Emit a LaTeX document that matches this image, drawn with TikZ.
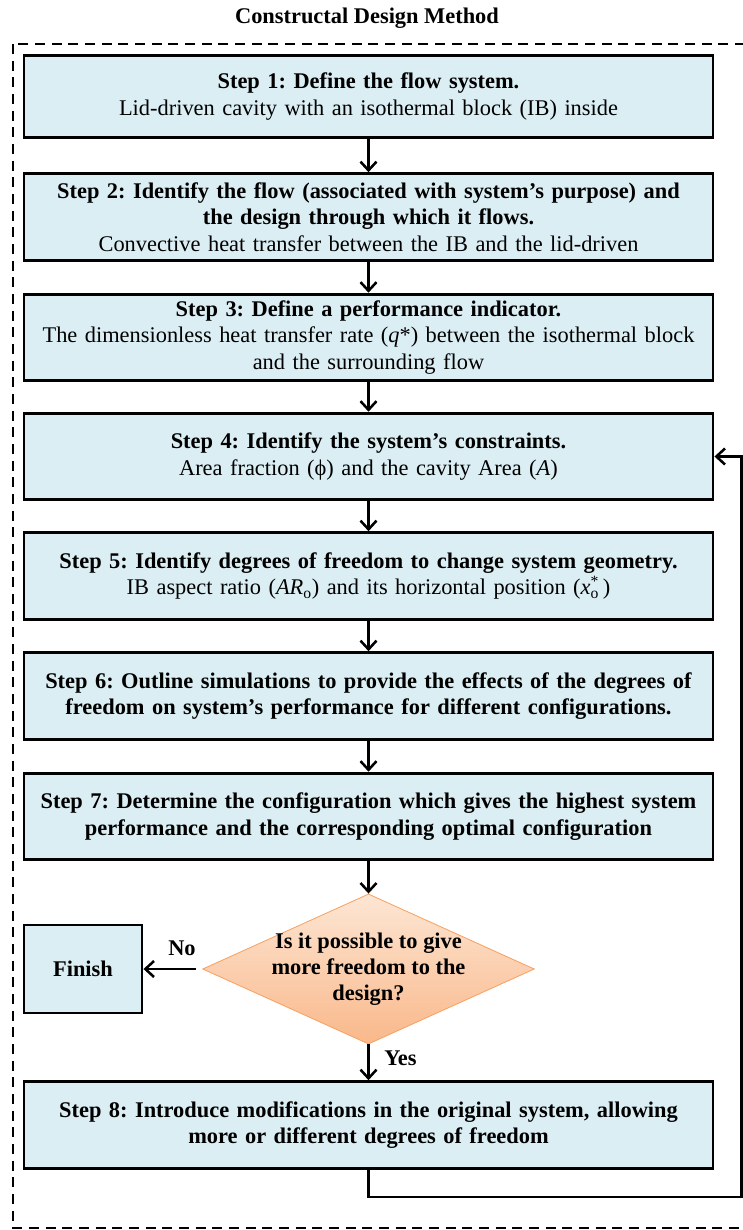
\documentclass[tikz,border=0pt]{standalone}
\usepackage{fontspec}
\setmainfont{Liberation Serif}
\frenchspacing
\usetikzlibrary{arrows.meta,shapes.geometric}
\definecolor{boxblue}{RGB}{219,238,244}
\definecolor{diamtop}{RGB}{253,230,212}
\definecolor{diambot}{RGB}{249,184,138}
\definecolor{diamline}{RGB}{247,160,95}

\tikzset{
  stepbox/.style={draw=black,line width=2.2pt,fill=boxblue,text width=505pt,align=center,
    minimum width=516.75pt,minimum height=65pt,inner sep=4pt,font=\fontsize{16.8}{20}\selectfont},
  finishbox/.style={draw=black,line width=2.2pt,fill=boxblue,minimum width=88.5pt,
    minimum height=66pt,inner sep=2pt,font=\fontsize{16.8}{20}\selectfont\bfseries},
  decision/.style={diamond,draw=diamline,line width=0.6pt,top color=diamtop,bottom color=diambot,
    aspect=2.21,inner sep=-2.6pt,align=center,font=\fontsize{16.8}{19.5}\selectfont\bfseries},
  flowarrow/.style={draw=black,line width=1.9pt,-{Straight Barb[length=6.5pt,width=12pt,line width=1.9pt]}},
  flowlabel/.style={font=\fontsize{16.8}{19.5}\selectfont\bfseries,inner sep=0pt}
}

\begin{document}
\begin{tikzpicture}[x=0.75pt,y=0.75pt,yscale=-1,xscale=1]
\useasboundingbox (0,0) rectangle (742,1230);

% Title
\node (title) at (367,18) [font=\fontsize{16.8}{19.5}\selectfont\bfseries] {Constructal Design Method};
% Dashed frame
\draw [dash pattern=on 7.5pt off 5pt,line width=1.5pt] (13,44) rectangle (770,1228);

% Steps
\node (b1) at (368.5,96.5) [stepbox,minimum height=62pt] {\textbf{Step 1: Define the flow system.}\\Lid-driven cavity with an isothermal block (IB) inside};
\node (b2) at (368.5,217) [stepbox] {\textbf{Step 2: Identify the flow (associated with system’s purpose) and}\\\textbf{the design through which it flows.}\\Convective heat transfer between the IB and the lid-driven};
\node (b3) at (368.5,337.5) [stepbox] {\textbf{Step 3: Define a performance indicator.}\\The dimensionless heat transfer rate (\textit{q}*) between the isothermal block\\and the surrounding flow};
\node (b4) at (368.5,456.5) [stepbox] {\textbf{Step 4: Identify the system’s constraints.}\\Area fraction (ϕ) and the cavity Area (\textit{A})};
\node (b5) at (368.5,576) [stepbox] {\textbf{Step 5: Identify degrees of freedom to change system geometry.}\\IB aspect ratio (\textit{AR}\textsubscript{o}) and its horizontal position (\textit{x}\rlap{\textsubscript{o}}\textsuperscript{*}\,)};
\node (b6) at (368.5,696) [stepbox] {\textbf{Step 6: Outline simulations to provide the effects of the degrees of}\\\textbf{freedom on system’s performance for different configurations.}};
\node (b7) at (368.5,816.5) [stepbox] {\textbf{Step 7: Determine the configuration which gives the highest system}\\\textbf{performance and the corresponding optimal configuration}};
% Decision
\node (ask) at (368.5,969) [decision] {Is it possible to give\\more freedom to the\\design?};
\node (finish) at (83,969) [finishbox] {Finish};
\node (b8) at (368.5,1125) [stepbox] {\textbf{Step 8: Introduce modifications in the original system, allowing}\\\textbf{more or different degrees of freedom}};

% Connectors
\draw [flowarrow] (b1) -- (b2);
\draw [flowarrow] (b2) -- (b3);
\draw [flowarrow] (b3) -- (b4);
\draw [flowarrow] (b4) -- (b5);
\draw [flowarrow] (b5) -- (b6);
\draw [flowarrow] (b6) -- (b7);
\draw [flowarrow] (b7) -- (ask);
\draw [flowarrow] (ask.west) ++(-6,0) coordinate (noend) (noend) -- (finish);
\draw [flowarrow] (ask) -- (b8);
% Loop back
\coordinate (loopcorner) at (741.5,1197);
\draw [flowarrow] (b8.south) |- (loopcorner) |- (b4.east);

% Labels
\node (nolabel) at (182,948) [flowlabel] {No};
\node (yeslabel) at (384,1058) [flowlabel,anchor=west] {Yes};

\end{tikzpicture}
\end{document}
